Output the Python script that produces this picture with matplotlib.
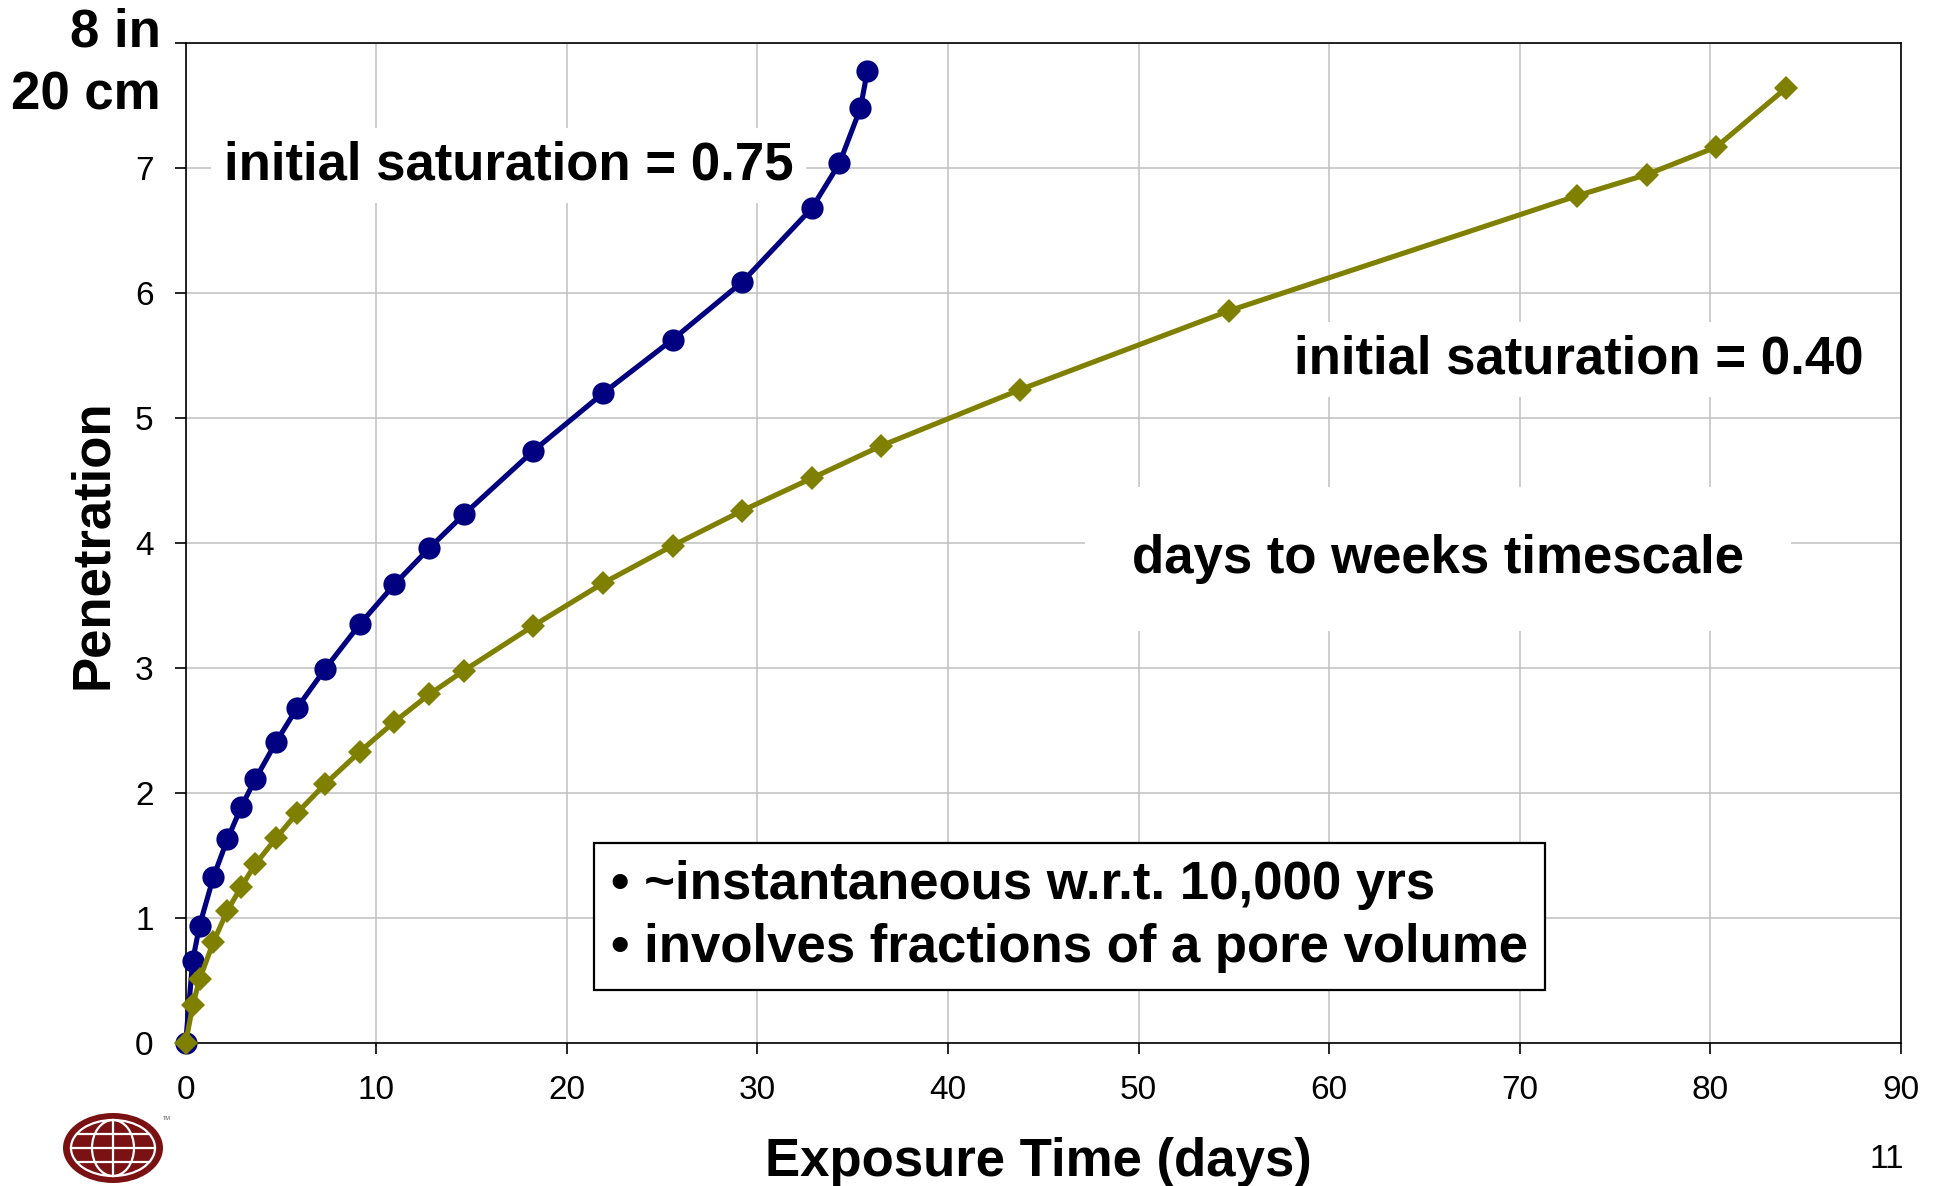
import matplotlib

matplotlib.use("Agg")
import matplotlib.pyplot as plt
from matplotlib.patches import Ellipse

plt.rcParams.update({
    "font.family": "Liberation Sans", "axes.linewidth": 1.2,
    "xtick.major.width": 1.2, "ytick.major.width": 1.2,
})

NAVY = "#000080"
OLIVE = "#808000"
GRID = "#c0c0c0"

# exposure time (days) vs. penetration, two initial saturations
days_075 = [0, 0.37, 0.73, 1.46, 2.19, 2.92, 3.65, 4.75, 5.84, 7.3, 9.13, 10.95, 12.78, 14.6,
            18.25, 21.9, 25.55, 29.2, 32.85, 34.3, 35.4, 35.77]
pen_075 = [0, 0.66, 0.94, 1.33, 1.63, 1.89, 2.11, 2.41, 2.68, 2.99, 3.35, 3.67, 3.96, 4.23,
           4.74, 5.20, 5.63, 6.09, 6.68, 7.04, 7.48, 7.78]

days_040 = [0, 0.37, 0.73, 1.46, 2.19, 2.92, 3.65, 4.75, 5.84, 7.3, 9.13, 10.95, 12.78, 14.6,
            18.25, 21.9, 25.55, 29.2, 32.85, 36.5, 43.8, 54.75, 73.0, 76.65, 80.3, 83.95]
pen_040 = [0, 0.30, 0.51, 0.81, 1.06, 1.25, 1.43, 1.64, 1.84, 2.07, 2.33, 2.57, 2.79, 2.98,
           3.34, 3.68, 3.98, 4.26, 4.52, 4.78, 5.23, 5.86, 6.78, 6.95, 7.17, 7.64]

x_ticks = list(range(0, 100, 10))
y_ticks = list(range(0, 9))
y_ticklabels = [str(v) for v in range(0, 8)] + [""]

fig = plt.figure(figsize=(19.4, 11.86), dpi=100)
ax = fig.add_axes([0.0957, 0.1206, 0.8842, 0.8428])

ax.plot(days_075, pen_075, color=NAVY, lw=3.7, marker="o", ms=16, mew=0, zorder=4, clip_on=False)
ax.plot(days_040, pen_040, color=OLIVE, lw=3.7, marker="D", ms=12, mew=0, zorder=4, clip_on=False)

ax.set_xlim(0, 90)
ax.set_ylim(0, 8)
ax.set_xticks(x_ticks)
ax.set_yticks(y_ticks)
ax.set_yticklabels(y_ticklabels)
ax.tick_params(direction="out", length=8, labelsize=24, pad=15)
ax.grid(color=GRID, lw=1.1, zorder=0)
ax.set_axisbelow(True)

ax.set_ylabel("Penetration", fontsize=38, fontweight="bold", va="center")
ax.yaxis.set_label_coords(-0.054, 0.499)
ax.set_xlabel("Exposure Time (days)", fontsize=38, fontweight="bold", va="center")
ax.xaxis.set_label_coords(0.497, -0.119)

# top of the axis marked in both units
fig.text(161 / 1940, 1 - 46.7 / 1186, "8 in", fontsize=38, fontweight="bold",
         ha="right", va="baseline")
fig.text(161 / 1940, 1 - 110 / 1186, "20 cm", fontsize=38, fontweight="bold",
         ha="right", va="baseline")

ax.text(2.0, 6.91, "initial saturation = 0.75", fontsize=38, fontweight="bold",
        ha="left", va="baseline", zorder=3,
        bbox=dict(facecolor="white", edgecolor="none", pad=9))
ax.text(58.16, 5.36, "initial saturation = 0.40", fontsize=38, fontweight="bold",
        ha="left", va="baseline", zorder=3,
        bbox=dict(facecolor="white", edgecolor="none", pad=9))
ax.text(49.65, 3.76, "days to weeks timescale", fontsize=38, fontweight="bold",
        ha="left", va="baseline", zorder=3,
        bbox=dict(facecolor="white", edgecolor="none", pad=34))
ax.text(22.31, 1.01, "\u2022 ~instantaneous w.r.t. 10,000 yrs\n\u2022 involves fractions of a pore volume",
        fontsize=38, fontweight="bold", ha="left", va="center", linespacing=1.33, zorder=3,
        bbox=dict(facecolor="white", edgecolor="black", linewidth=1.6, pad=12))

fig.text(1887 / 1940, 1 - 1160 / 1186, "11", fontsize=24, ha="center", va="center")

# globe logo, drawn in pixel units
lg = fig.add_axes([55 / 1940, 0, 125 / 1940, 81 / 1186])
lg.set_xlim(55, 180)
lg.set_ylim(1186, 1105)
lg.axis("off")
red = "#7a1214"
cx, cy, w, h = 113, 1148, 100, 70
lg.add_patch(Ellipse((cx, cy), w, h, facecolor=red, edgecolor="none"))
lg.add_patch(Ellipse((cx, cy), w * 0.84, h * 0.8, facecolor="none", edgecolor="white", lw=1.6))
lg.add_patch(Ellipse((cx, cy), w * 0.42, h * 0.8, facecolor="none", edgecolor="white", lw=1.6))
lg.plot([cx - w * 0.42, cx + w * 0.42], [cy, cy], color="white", lw=1.6)
lg.plot([cx, cx], [cy - h * 0.4, cy + h * 0.4], color="white", lw=1.6)
for dy in (-0.2, 0.2):
    half = w * 0.42 * (1 - (dy / 0.4) ** 2) ** 0.5
    lg.plot([cx - half, cx + half], [cy + dy * h, cy + dy * h], color="white", lw=1.6)
lg.text(167, 1119, "TM", fontsize=4, color="#555555", ha="center", va="center")

fig.savefig("out.png", dpi=100)
